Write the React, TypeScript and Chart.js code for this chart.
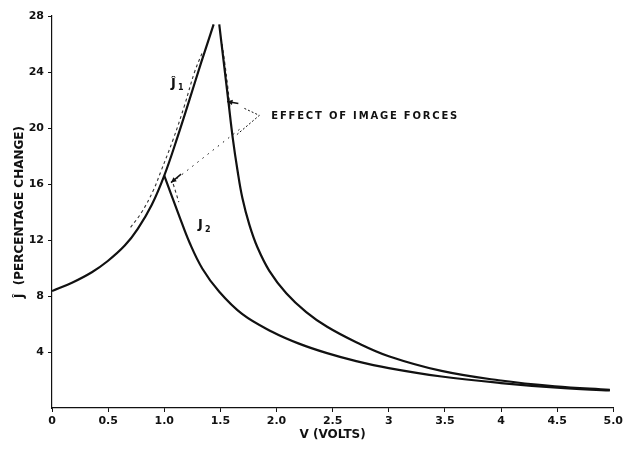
import React, { useEffect, useRef } from "react";
import { Chart, registerables } from "chart.js";

Chart.register(...registerables);

// ---- tick labels ----
const xTickValues = [0, 0.5, 1, 1.5, 2, 2.5, 3, 3.5, 4, 4.5, 5];
const xTickLabels = ["0", "0.5", "1.0", "1.5", "2.0", "2.5", "3", "3.5", "4", "4.5", "5.0"];
const yTickValues = [4, 8, 12, 16, 20, 24, 28];
const yTickLabels = ["4", "8", "12", "16", "20", "24", "28"];

// ---- series (V in volts, J in percentage change) ----
// shared rising branch, continuing as J1 up to its peak
const risingV = [0, 0.178, 0.355, 0.497, 0.648, 0.764, 0.888, 1.0, 1.12, 1.22, 1.33, 1.44];
const risingJ = [8.35, 8.95, 9.7, 10.5, 11.6, 12.8, 14.5, 16.6, 19.4, 21.9, 24.7, 27.4];
// J1 falling branch
const j1FallV = [1.49, 1.53, 1.57, 1.61, 1.652, 1.696, 1.758, 1.829, 1.936, 2.087, 2.265, 2.451, 2.71, 3.0, 3.47, 3.98, 4.48, 4.97];
const j1FallJ = [27.4, 24.7, 22.0, 19.3, 17.0, 15.0, 13.1, 11.5, 9.8, 8.2, 6.85, 5.8, 4.7, 3.7, 2.65, 1.98, 1.55, 1.3];
// J2 falling branch
const j2FallV = [1.0, 1.137, 1.226, 1.34, 1.49, 1.696, 1.96, 2.2, 2.45, 2.71, 3.0, 3.47, 4.0, 4.5, 4.97];
const j2FallJ = [16.6, 13.64, 11.8, 9.95, 8.3, 6.7, 5.45, 4.6, 3.92, 3.35, 2.85, 2.25, 1.78, 1.45, 1.25];
// dashed curves: effect of image forces
const imgLeftV = [0.7, 0.8, 0.9, 0.97, 1.08, 1.18, 1.27, 1.34];
const imgLeftJ = [12.9, 14.0, 15.5, 16.9, 19.2, 21.6, 24.0, 25.4];
const imgRightV = [1.515, 1.54, 1.565, 1.585];
const imgRightJ = [26.0, 24.6, 23.0, 21.5];
const imgJ2V = [1.08, 1.13];
const imgJ2J = [16.0, 14.7];

const pts = (xs: number[], ys: number[]) => xs.map((v, i) => ({ x: v, y: ys[i] }));

const INK = "#111111";
const FONT = "'DejaVu Sans', sans-serif";

const annotationPlugin = {
  id: "figureAnnotations",
  afterDatasetsDraw(chart: any) {
    const { ctx, scales } = chart;
    const X = (v: number) => scales.x.getPixelForValue(v);
    const Y = (j: number) => scales.y.getPixelForValue(j);
    ctx.save();
    ctx.fillStyle = INK;
    ctx.strokeStyle = INK;

    // curve labels
    ctx.textBaseline = "middle";
    ctx.textAlign = "left";
    ctx.font = `bold 13px ${FONT}`;
    ctx.fillText("Ĵ", X(1.06), Y(23.2));
    ctx.font = `bold 8px ${FONT}`;
    ctx.fillText("1", X(1.06) + 7, Y(23.2) + 5);
    ctx.font = `bold 13px ${FONT}`;
    ctx.fillText("J", X(1.3), Y(13.1));
    ctx.font = `bold 8px ${FONT}`;
    ctx.fillText("2", X(1.3) + 7, Y(13.1) + 5);

    // annotation text
    ctx.font = `bold 10px ${FONT}`;
    (ctx as any).letterSpacing = "1.8px";
    ctx.fillText("EFFECT OF IMAGE FORCES", X(1.954), Y(20.85));
    (ctx as any).letterSpacing = "0px";

    // bracket
    ctx.lineWidth = 1;
    ctx.setLineDash([2, 2]);
    ctx.beginPath();
    ctx.moveTo(X(1.714), Y(21.4));
    ctx.lineTo(X(1.847), Y(20.9));
    ctx.lineTo(X(1.643), Y(19.5));
    ctx.stroke();

    // dotted leader to J2 peak
    ctx.setLineDash([1.5, 5]);
    ctx.beginPath();
    ctx.moveTo(X(1.67), Y(19.9));
    ctx.lineTo(X(1.09), Y(16.25));
    ctx.stroke();
    ctx.setLineDash([]);

    const arrow = (x1: number, y1: number, x2: number, y2: number) => {
      const a = Math.atan2(y2 - y1, x2 - x1);
      const L = 6;
      ctx.beginPath();
      ctx.moveTo(x1, y1);
      ctx.lineTo(x2, y2);
      ctx.stroke();
      ctx.beginPath();
      ctx.moveTo(x2, y2);
      ctx.lineTo(x2 - L * Math.cos(a - 0.45), y2 - L * Math.sin(a - 0.45));
      ctx.lineTo(x2 - L * Math.cos(a + 0.45), y2 - L * Math.sin(a + 0.45));
      ctx.closePath();
      ctx.fill();
    };
    ctx.lineWidth = 1.5;
    arrow(X(1.15), Y(16.7), X(1.06), Y(16.1));
    arrow(X(1.66), Y(21.75), X(1.56), Y(21.9));

    ctx.restore();
  },
};

export default function App() {
  const canvasRef = useRef<HTMLCanvasElement | null>(null);

  useEffect(() => {
    const canvas = canvasRef.current;
    if (!canvas) return;
    const solid = (data: any[]) => ({
      data,
      borderColor: INK,
      borderWidth: 2.2,
      pointRadius: 0,
      fill: false,
      tension: 0.4,
    });
    const dashed = (data: any[]) => ({
      data,
      borderColor: "#333333",
      borderWidth: 1.1,
      borderDash: [3, 3],
      pointRadius: 0,
      fill: false,
      tension: 0.4,
    });

    const chart = new Chart(canvas, {
      type: "line",
      data: {
        datasets: [
          { label: "J1 / J2 rising", ...solid(pts(risingV, risingJ)) },
          { label: "J1 falling", ...solid(pts(j1FallV, j1FallJ)) },
          { label: "J2 falling", ...solid(pts(j2FallV, j2FallJ)) },
          { label: "image forces (J1 left)", ...dashed(pts(imgLeftV, imgLeftJ)) },
          { label: "image forces (J1 right)", ...dashed(pts(imgRightV, imgRightJ)) },
          { label: "image forces (J2)", ...dashed(pts(imgJ2V, imgJ2J)) },
        ],
      },
      options: {
        responsive: false,
        animation: false,
        events: [],
        layout: { padding: { top: 16, right: 11, left: 0, bottom: 0 } },
        plugins: { legend: { display: false }, tooltip: { enabled: false } },
        scales: {
          x: {
            type: "linear",
            min: 0,
            max: 5,
            afterFit: (s: any) => {
              s.height = 42;
            },
            afterBuildTicks: (s: any) => {
              s.ticks = xTickValues.map((v) => ({ value: v }));
            },
            ticks: {
              autoSkip: false,
              maxRotation: 0,
              padding: 3,
              color: INK,
              font: { family: FONT, size: 11, weight: "bold" },
              callback: (v: any) => {
                const i = xTickValues.indexOf(Number(v));
                return i >= 0 ? xTickLabels[i] : null;
              },
            },
            grid: { display: true, drawOnChartArea: false, drawTicks: true, tickLength: 4, color: INK },
            border: { display: true, color: INK, width: 1.2 },
            title: {
              display: true,
              text: "V (VOLTS)",
              color: INK,
              font: { family: FONT, size: 12, weight: "bold" },
              padding: { top: 0, bottom: 8 },
            },
          },
          y: {
            type: "linear",
            min: 0,
            max: 28,
            afterFit: (s: any) => {
              s.width = 52;
            },
            afterBuildTicks: (s: any) => {
              s.ticks = yTickValues.map((v) => ({ value: v }));
            },
            ticks: {
              autoSkip: false,
              padding: 4,
              color: INK,
              font: { family: FONT, size: 11, weight: "bold" },
              callback: (v: any) => {
                const i = yTickValues.indexOf(Number(v));
                return i >= 0 ? yTickLabels[i] : null;
              },
            },
            grid: { display: true, drawOnChartArea: false, drawTicks: true, tickLength: 4, color: INK },
            border: { display: true, color: INK, width: 1.2, dash: [1.5, 1.5] },
            title: {
              display: true,
              text: "Ĵ  (PERCENTAGE CHANGE)",
              color: INK,
              font: { family: FONT, size: 12, weight: "bold" },
              padding: { top: 13, bottom: 0 },
            },
          },
        },
      },
      plugins: [annotationPlugin],
    });
    return () => chart.destroy();
  }, []);

  return (
    <div style={{ position: "fixed", left: 0, top: 0, width: 626, height: 450, background: "#ffffff" }}>
      <canvas ref={canvasRef} width={626} height={450} style={{ display: "block" }} />
    </div>
  );
}
